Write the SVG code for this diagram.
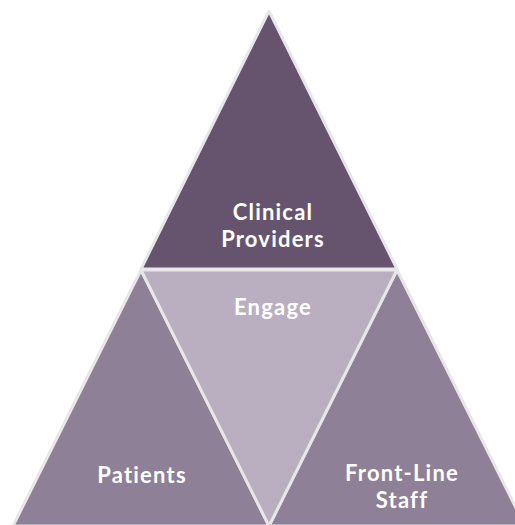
<svg xmlns="http://www.w3.org/2000/svg" width="515" height="525" viewBox="0 0 515 525">
<style>
.tri{stroke:#e7e6e9;stroke-width:3;stroke-linejoin:round}
.lbl{font-family:Lato,"Open Sans","DejaVu Sans",sans-serif;font-weight:bold;font-size:22px;letter-spacing:1.2px;fill:#ffffff;text-anchor:middle}
</style>
<rect width="515" height="525" fill="#ffffff"/>
<g id="patients">
<polygon class="tri" fill="#8e8096" points="141,270 13,526 269,526"/>
<text class="lbl" x="142" y="483">Patients</text>
</g>
<g id="front-line-staff">
<polygon class="tri" fill="#8e8096" points="397,270 269,526 525,526"/>
<text class="lbl" x="402" y="481">Front-Line<tspan x="402" y="507.5">Staff</tspan></text>
</g>
<g id="engage">
<polygon class="tri" fill="#b9afc1" points="141,270 397,270 269,526"/>
<text class="lbl" x="273" y="315">Engage</text>
</g>
<g id="clinical-providers">
<polygon class="tri" fill="#66546f" points="269,11 141,269 397,269"/>
<text class="lbl" x="273" y="220">Clinical<tspan x="273" y="246.5">Providers</tspan></text>
</g>
<g id="connectors"></g>
</svg>
